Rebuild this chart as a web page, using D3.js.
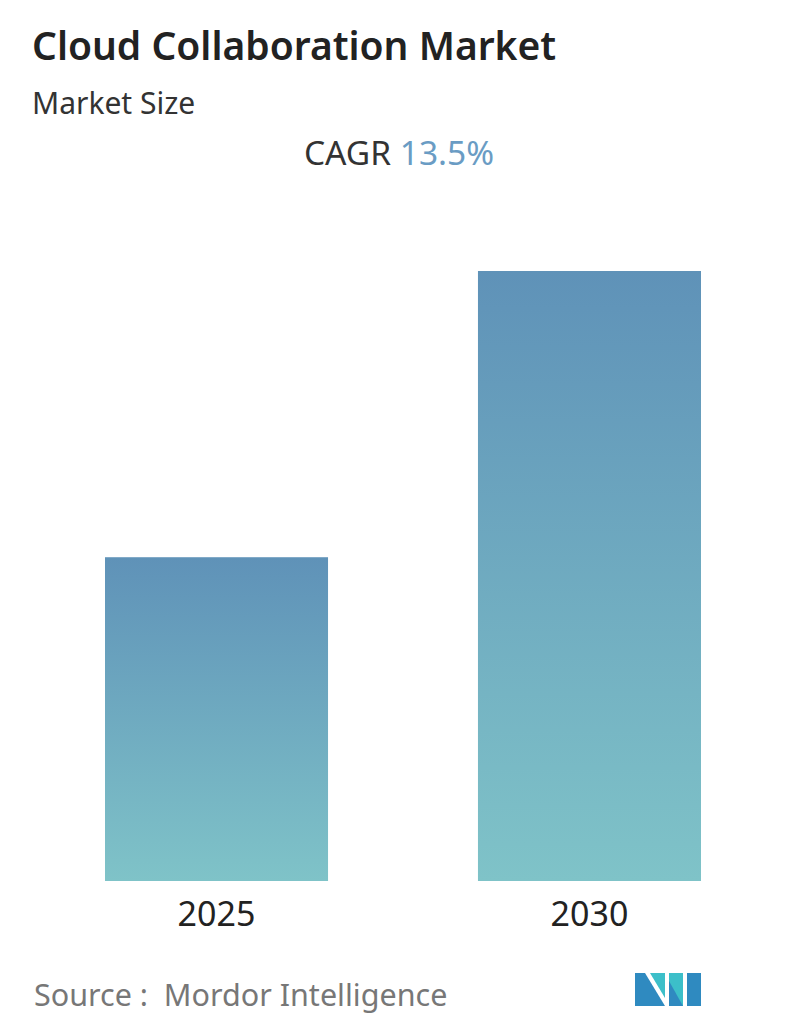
<!DOCTYPE html>
<html><head><meta charset="utf-8">
<script src="https://cdn.jsdelivr.net/npm/d3@7"></script>
<style>body{margin:0;background:#fff;font-family:"Noto Sans",sans-serif}</style>
</head><body><svg id="c" width="796" height="1034"></svg>
<script>
const years = ["2025", "2030"];
const values = [1, 1.884];
const cagr = "13.5%";

const svg = d3.select("#c");
const defs = svg.append("defs");
const g = defs.append("linearGradient").attr("id", "bg").attr("x1", 0).attr("y1", 0).attr("x2", 0).attr("y2", 1);
g.append("stop").attr("offset", "0%").attr("stop-color", "#5f92b8");
g.append("stop").attr("offset", "100%").attr("stop-color", "#7fc3c8");

svg.append("text").attr("x", 32).attr("y", 60).attr("font-size", 39).attr("font-weight", 600).attr("fill", "#222").text("Cloud Collaboration Market");
svg.append("text").attr("x", 32).attr("y", 114).attr("font-size", 30).attr("fill", "#333").text("Market Size");
const t = svg.append("text").attr("x", 399).attr("y", 165).attr("font-size", 33.5).attr("text-anchor", "middle");
t.append("tspan").attr("fill", "#333").text("CAGR ");
t.append("tspan").attr("fill", "#6a9cc4").text(cagr);

const x = d3.scaleBand().domain(years).range([105, 701]).paddingInner(0.402).paddingOuter(0);
const y = d3.scaleLinear().domain([0, values[1]]).range([881, 271]);

svg.selectAll("rect.bar").data(years).join("rect").attr("class", "bar")
  .attr("x", d => x(d)).attr("width", x.bandwidth())
  .attr("y", (d, i) => y(values[i])).attr("height", (d, i) => 881 - y(values[i]))
  .attr("fill", "url(#bg)");

svg.selectAll("text.yr").data(years).join("text").attr("class", "yr")
  .attr("x", d => x(d) + x.bandwidth() / 2).attr("y", 926)
  .attr("text-anchor", "middle").attr("font-size", 34).attr("fill", "#222").text(d => d);

svg.append("text").attr("x", 34).attr("y", 1006).attr("font-size", 30.5).attr("fill", "#777").attr("xml:space", "preserve").text("Source :  Mordor Intelligence");

const lg = svg.append("g").attr("transform", "translate(635,973)");
lg.append("polygon").attr("points", "0,0 10,0 30,33 0,33").attr("fill", "#2f8ac0");
lg.append("polygon").attr("points", "15,0 30,0 30,25").attr("fill", "#3cbfc9");
lg.append("polygon").attr("points", "34,0 48,0 48,33 34,33").attr("fill", "#3cbfc9");
lg.append("polygon").attr("points", "34,8 48,33 34,33").attr("fill", "#2f8ac0");
lg.append("polygon").attr("points", "52,0 66,0 66,33 52,33").attr("fill", "#2f8ac0");
</script></body></html>
